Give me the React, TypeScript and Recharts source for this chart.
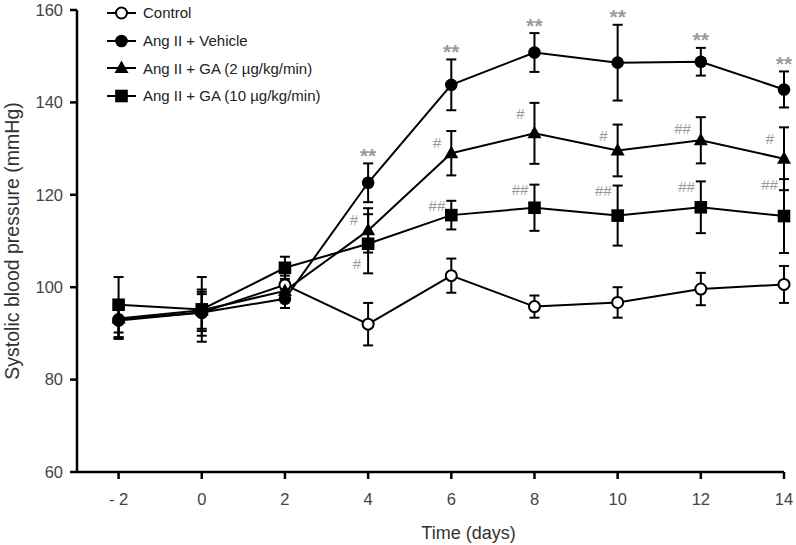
import {
  ErrorBar,
  LabelList,
  Line,
  LineChart,
  XAxis,
  YAxis,
} from "recharts";

const days = [-2, 0, 2, 4, 6, 8, 10, 12, 14];

const control = [93, 94.5, 100.5, 92, 102.5, 95.8, 96.7, 99.6, 100.6];
const controlErr = [4, 5, 2, 4.6, 3.7, 2.4, 3.3, 3.5, 4];

const vehicle = [92.8, 94.5, 97.5, 122.6, 143.8, 150.8, 148.6, 148.8, 142.8];
const vehicleErr = [4, 4, 2, 4.2, 5.5, 4.2, 8.2, 3, 3.9];

const ga2 = [93.2, 95, 99.2, 112.3, 129, 133.3, 129.6, 131.8, 127.8];
const ga2Err = [4, 4, 2, 4.8, 4.8, 6.6, 5.6, 5, 6.8];

const ga10 = [96.2, 95.2, 104.2, 109.4, 115.6, 117.2, 115.5, 117.3, 115.4];
const ga10Err = [6, 7, 2.4, 6.4, 3.1, 5, 6.5, 5.6, 8];

// significance marks as printed above / beside each point
const vehicleSig = ["", "", "", "**", "**", "**", "**", "**", "**"];
const ga2Sig = ["", "", "", "#", "#", "#", "#", "##", "#"];
const ga10Sig = ["", "", "", "", "##", "##", "##", "##", "##"];
const ga10SigLow = ["", "", "", "#", "", "", "", "", ""];

const xTicks = [-2, 0, 2, 4, 6, 8, 10, 12, 14];
const yTicks = [60, 80, 100, 120, 140, 160];

const seriesNames = [
  "Control",
  "Ang II + Vehicle",
  "Ang II + GA (2 µg/kg/min)",
  "Ang II + GA (10 µg/kg/min)",
];

const chartData = days.map((day, i) => ({
  day,
  control: control[i],
  controlErr: controlErr[i],
  vehicle: vehicle[i],
  vehicleErr: vehicleErr[i],
  vehicleTop: vehicle[i] + vehicleErr[i],
  ga2: ga2[i],
  ga2Err: ga2Err[i],
  ga2Top: ga2[i] + ga2Err[i],
  ga10: ga10[i],
  ga10Err: ga10Err[i],
  ga10Top: ga10[i] + ga10Err[i],
  ga10Bottom: ga10[i] - ga10Err[i],
}));

const FONT = "'Liberation Sans', Arial, sans-serif";
const MARK = "#9a9a9a";

type Shape = "open" | "circle" | "triangle" | "square";

function Marker({ cx, cy, shape }: { cx: number; cy: number; shape: Shape }) {
  if (cx == null || cy == null) return null;
  if (shape === "open")
    return <circle cx={cx} cy={cy} r={5.5} fill="#fff" stroke="#000" strokeWidth={2} />;
  if (shape === "circle") return <circle cx={cx} cy={cy} r={6.3} fill="#000" />;
  if (shape === "triangle")
    return (
      <polygon
        points={`${cx},${cy - 7.5} ${cx + 7},${cy + 5} ${cx - 7},${cy + 5}`}
        fill="#000"
      />
    );
  return <rect x={cx - 6.3} y={cy - 6.3} width={12.6} height={12.6} fill="#000" />;
}

const dot = (shape: Shape) => (props: any) =>
  <Marker key={`${shape}-${props.index}`} cx={props.cx} cy={props.cy} shape={shape} />;

const sigLabel =
  (
    marks: string[],
    dx: number,
    dy: number,
    size: number,
    anchor: "middle" | "end",
    bold = false
  ) =>
  (props: any) => {
    const { x, y, index } = props;
    const t = marks[index];
    if (!t) return null;
    return (
      <text
        key={`sig-${index}`}
        x={x + dx}
        y={y + dy}
        textAnchor={anchor}
        dominantBaseline="central"
        fontSize={size}
        fontWeight={bold ? "bold" : "normal"}
        fontFamily={FONT}
        fill={MARK}
      >
        {t}
      </text>
    );
  };

function LegendBox() {
  const shapes: Shape[] = ["open", "circle", "triangle", "square"];
  return (
    <div
      style={{
        position: "absolute",
        top: -1,
        left: 106,
        fontFamily: FONT,
        fontSize: 15,
        color: "#222",
      }}
    >
      {seriesNames.map((name, i) => (
        <div key={name} style={{ display: "flex", alignItems: "center", height: 27.7 }}>
          <svg width={32} height={16}>
            <line x1={1} y1={8} x2={30} y2={8} stroke="#000" strokeWidth={2} />
            <Marker cx={15.5} cy={8} shape={shapes[i]} />
          </svg>
          <span style={{ marginLeft: 5 }}>{name}</span>
        </div>
      ))}
    </div>
  );
}

function YTitle(props: any) {
  const vb = props.viewBox;
  const x = 12;
  const y = vb.y + vb.height / 2;
  return (
    <text
      x={x}
      y={y}
      transform={`rotate(-90 ${x} ${y})`}
      textAnchor="middle"
      dominantBaseline="central"
      fontSize={19.5}
      fontFamily={FONT}
      fill="#333"
    >
      Systolic blood pressure (mmHg)
    </text>
  );
}

const fmtDay = (v: number) => (v < 0 ? `- ${Math.abs(v)}` : `${v}`);

export default function App() {
  const tick = { fontSize: 16.5, fill: "#444", fontFamily: FONT };
  const hidden = {
    stroke: "none",
    dot: false,
    activeDot: false,
    legendType: "none" as const,
    isAnimationActive: false,
  };
  return (
    <div style={{ position: "absolute", left: 0, top: 0, width: 796, height: 545, background: "#fff" }}>
      <LineChart
        width={796}
        height={545}
        data={chartData}
        margin={{ top: 10, right: 12, left: 10, bottom: 5 }}
      >
        <XAxis
          dataKey="day"
          type="number"
          domain={[-3, 14]}
          ticks={xTicks}
          tickFormatter={fmtDay}
          tick={tick}
          tickSize={7}
          tickMargin={14}
          height={68}
          stroke="#000"
          strokeWidth={2.5}
          label={{
            value: "Time (days)",
            position: "insideBottom",
            offset: 1,
            dx: 38,
            fill: "#333",
            fontSize: 18,
            fontFamily: FONT,
          }}
        />
        <YAxis
          type="number"
          domain={[60, 160]}
          ticks={yTicks}
          tick={tick}
          tickSize={7}
          tickMargin={7}
          width={67}
          stroke="#000"
          strokeWidth={2.5}
          allowDataOverflow
          label={{ content: YTitle }}
        />

        <Line dataKey="control" stroke="#000" strokeWidth={2} dot={dot("open")} isAnimationActive={false}>
          <ErrorBar dataKey="controlErr" direction="y" width={5} stroke="#000" strokeWidth={2} />
        </Line>
        <Line dataKey="ga10" stroke="#000" strokeWidth={2} dot={dot("square")} isAnimationActive={false}>
          <ErrorBar dataKey="ga10Err" direction="y" width={5} stroke="#000" strokeWidth={2} />
        </Line>
        <Line dataKey="ga2" stroke="#000" strokeWidth={2} dot={dot("triangle")} isAnimationActive={false}>
          <ErrorBar dataKey="ga2Err" direction="y" width={5} stroke="#000" strokeWidth={2} />
        </Line>
        <Line dataKey="vehicle" stroke="#000" strokeWidth={2} dot={dot("circle")} isAnimationActive={false}>
          <ErrorBar dataKey="vehicleErr" direction="y" width={5} stroke="#000" strokeWidth={2} />
        </Line>

        <Line dataKey="vehicleTop" {...hidden}>
          <LabelList dataKey="vehicleTop" content={sigLabel(vehicleSig, 0, -8, 21, "middle", true)} />
        </Line>
        <Line dataKey="ga2Top" {...hidden}>
          <LabelList dataKey="ga2Top" content={sigLabel(ga2Sig, -10, 11, 15, "end")} />
        </Line>
        <Line dataKey="ga10Top" {...hidden}>
          <LabelList dataKey="ga10Top" content={sigLabel(ga10Sig, -6, 5, 15, "end")} />
        </Line>
        <Line dataKey="ga10Bottom" {...hidden}>
          <LabelList dataKey="ga10Bottom" content={sigLabel(ga10SigLow, -7, -10, 15, "end")} />
        </Line>
      </LineChart>
      <LegendBox />
    </div>
  );
}
